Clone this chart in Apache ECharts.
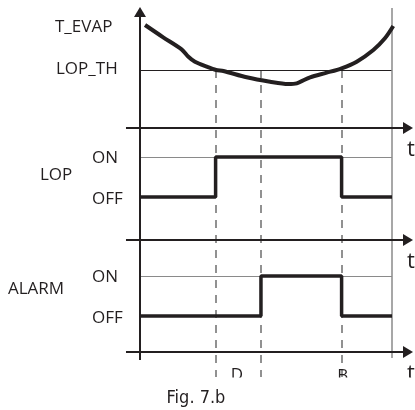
<!DOCTYPE html>
<html><head><meta charset="utf-8">
<script src="https://cdn.jsdelivr.net/npm/echarts@6/dist/echarts.min.js"></script>
<style>html,body{margin:0;padding:0;background:#fff}#c{width:415px;height:410px}</style>
</head><body><div id="c"></div>
<script>
// ---- data (time in arbitrary units: 0 = start, 100 = end) ----
const curveTime = [2, 9.2, 16.5, 19.2, 21.8, 26.5, 30.2, 33.1, 42.3, 51.6, 58.8, 62.2, 67.5, 74.1, 80.0, 86.0, 92.6, 97.2, 100.5];
const tEvap     = [10.3, 9.07, 7.87, 7.13, 6.63, 6.13, 5.8, 5.7, 5.07, 4.63, 4.4, 4.47, 5.07, 5.53, 5.97, 6.63, 7.8, 8.97, 10.2];
const lopTh = 5.8;
const eventTimes = [30, 48, 80];          // LOP on, ALARM on (after delay D), reset (B)
const endTime = 100;
const lopTime = [0, 30, 80, 100];
const lopState = [0, 1, 0, 0];
const alarmTime = [0, 48, 80, 100];
const alarmState = [0, 1, 0, 0];
const stateLabels = ['OFF', 'ON'];
const panelLabels = ['T_EVAP', 'LOP_TH', 'LOP', 'ALARM'];
const eventLabels = ['D', 'B'];
const axisName = 't';
const caption = 'Fig. 7.b';

// ---- layout (plot units) ----
const L = {
  xMin: -140 / 2.52, xMax: (415 - 140) / 2.52, yMin: -58, yMax: 352,
  axisStart: -5.56, axisEnd: 106.35,
  tBase: 224, tScale: 10,
  lopAxis: 112, lopOff: 155, lopOn: 195,
  alarmAxis: 0, alarmOff: 36, alarmOn: 76,
  vTop: 340, vBottom: -8, frameTop: 344, frameBottom: -6, dashBottom: -25
};
const INK = '#231f20';
const toT = v => L.tBase + v * L.tScale;
const curveData = curveTime.map((t, i) => [t, toT(tEvap[i])]);
const lopData = lopTime.map((t, i) => [t, L.lopOff + lopState[i] * (L.lopOn - L.lopOff)]);
const alarmData = alarmTime.map((t, i) => [t, L.alarmOff + alarmState[i] * (L.alarmOn - L.alarmOff)]);

const hLine = (y, x0, x1, style) => [{coord: [x0, y], lineStyle: style}, {coord: [x1, y]}];
const vLine = (x, y0, y1, style) => [{coord: [x, y0], lineStyle: style}, {coord: [x, y1]}];

const chart = echarts.init(document.getElementById('c'), null, {renderer: 'canvas'});
chart.setOption({
  animation: false,
  backgroundColor: '#fff',
  grid: {left: 0, right: 0, top: 0, bottom: 0},
  xAxis: {type: 'value', min: L.xMin, max: L.xMax, show: false},
  yAxis: {type: 'value', min: L.yMin, max: L.yMax, show: false},
  series: [
    { // axes with arrows
      type: 'line', data: [], silent: true, z: 3,
      markLine: {
        silent: true, z: 3, symbol: ['none', 'triangle'], symbolSize: [12, 10],
        label: {show: false},
        lineStyle: {color: INK, width: 2, type: 'solid'},
        data: [
          hLine(L.tBase, L.axisStart, L.axisEnd),
          hLine(L.lopAxis, L.axisStart, L.axisEnd),
          hLine(L.alarmAxis, L.axisStart, L.axisEnd),
          vLine(0, L.vBottom, L.vTop)
        ]
      }
    },
    { // reference lines
      type: 'line', data: [], silent: true, z: 2,
      markLine: {
        silent: true, z: 2, symbol: 'none', label: {show: false},
        data: [
          hLine(toT(lopTh), 0, endTime, {color: INK, width: 1, type: 'solid'}),
          hLine(L.lopOn, 0, endTime, {color: '#8a8a8a', width: 1, type: 'solid'}),
          hLine(L.alarmOn, 0, endTime, {color: '#8a8a8a', width: 1, type: 'solid'}),
          vLine(endTime, L.frameBottom, L.frameTop, {color: '#8a8a8a', width: 1.5, type: 'solid'})
        ]
      }
    },
    { // event dashed lines
      type: 'line', data: [], silent: true, z: 1,
      markLine: {
        silent: true, z: 1, symbol: 'none', label: {show: false},
        lineStyle: {color: '#6d6d6d', width: 1.5, type: [8, 7]},
        data: eventTimes.map(t => vLine(t, toT(lopTh), L.dashBottom))
      }
    },
    {name: 'T_EVAP', type: 'line', data: curveData, smooth: 0.3, showSymbol: false, z: 4,
     lineStyle: {color: INK, width: 4}},
    {name: 'LOP', type: 'line', data: lopData, step: 'end', showSymbol: false, z: 4,
     lineStyle: {color: INK, width: 3.5}},
    {name: 'ALARM', type: 'line', data: alarmData, step: 'end', showSymbol: false, z: 4,
     lineStyle: {color: INK, width: 3.5}}
  ]
});

const px = (x, y) => chart.convertToPixel({gridIndex: 0}, [x, y]);
const font = '"Open Sans", sans-serif';
const txt = (text, x, y, opts) => Object.assign({
  type: 'text', x: x, y: y, z: 100,
  style: Object.assign({text: text, fill: INK, font: '17px ' + font, align: 'left', verticalAlign: 'middle'}, opts || {})
});
const g = [];
g.push(txt(panelLabels[0], 55, 27.5));
g.push(txt(panelLabels[1], 56, px(0, toT(lopTh))[1] - 0.5));
g.push(txt(panelLabels[2], 40, 175));
g.push(txt(panelLabels[3], 8, 289));
[[L.lopOff, L.lopOn], [L.alarmOff, L.alarmOn]].forEach(lv => {
  g.push(txt(stateLabels[0], 92, px(0, lv[0])[1] + 2));
  g.push(txt(stateLabels[1], 92, px(0, lv[1])[1] + 1));
});
[L.tBase, L.lopAxis, L.alarmAxis].forEach(a => {
  g.push(txt(axisName, 407, px(0, a)[1] + 21.5, {font: '22px ' + font}));
});
const dX = px((eventTimes[0] + eventTimes[1]) / 2 - 0.5, 0)[0];
const bX = px(eventTimes[2] + 0.5, 0)[0];
g.push(txt(eventLabels[0], dX, 375, {align: 'center'}));
g.push(txt(eventLabels[1], bX, 376, {align: 'center'}));
// crop strip below the figure (as in the scanned original)
g.push({type: 'rect', z: 150, shape: {x: 0, y: 377.5, width: 415, height: 9}, style: {fill: '#fff'}});
g.push(Object.assign(txt(caption, 196, 398, {align: 'center', font: '18px "Liberation Sans Narrow", "DejaVu Sans Condensed", sans-serif'}), {z: 200}));
chart.setOption({graphic: g});
</script>
</body></html>
